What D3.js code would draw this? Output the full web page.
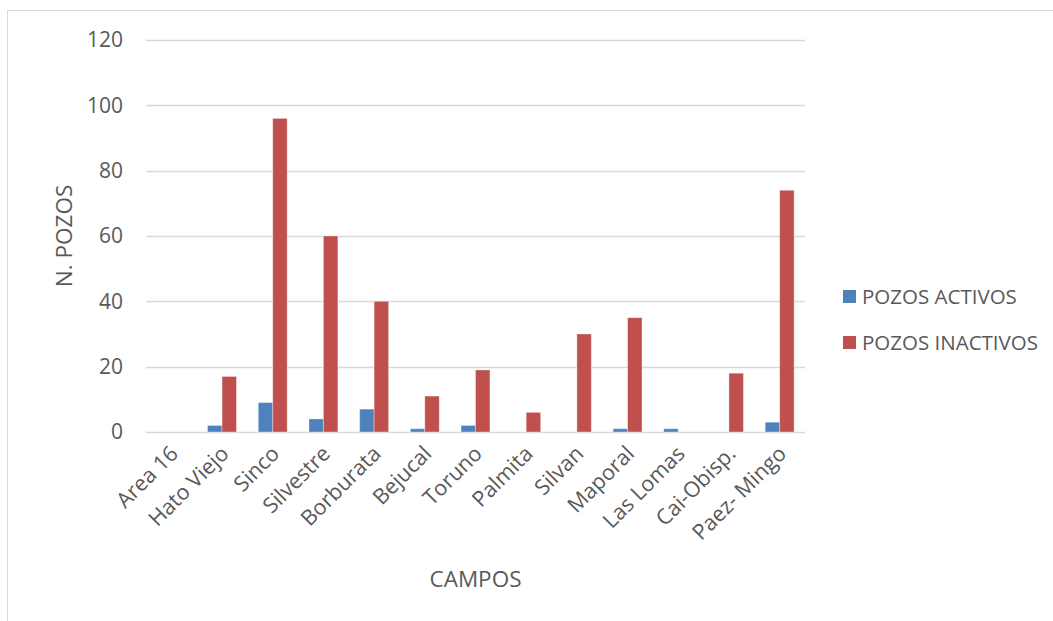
<!DOCTYPE html>
<html><head><meta charset="utf-8">
<script src="https://cdn.jsdelivr.net/npm/d3@7"></script>
<style>body{margin:0;background:#fff;} svg{display:block;}</style>
</head><body>
<script>
const categories = ["Area 16","Hato Viejo","Sinco","Silvestre","Borburata","Bejucal","Toruno","Palmita","Silvan","Maporal","Las Lomas","Cai-Obisp.","Paez- Mingo"];
const activos   = [0, 2, 9, 4, 7, 1, 2, 0, 0, 1, 1, 0, 3];
const inactivos = [0, 17, 96, 60, 40, 11, 19, 6, 30, 35, 0, 18, 74];
const yTicks = [0, 20, 40, 60, 80, 100, 120];
const seriesNames = ["POZOS ACTIVOS", "POZOS INACTIVOS"];
const colors = ["#4F81BD", "#C0504D"];

(function () {
const W = 1053, H = 621;
const font = "'Open Sans', sans-serif";
const txt = "#595959";
const svg = d3.select("body").append("svg").attr("width", W).attr("height", H);
svg.append("rect").attr("x", 7.5).attr("y", 10.5).attr("width", W).attr("height", H)
  .attr("fill", "#fff").attr("stroke", "#d9d9d9").attr("stroke-width", 1);

const pLeft = 146, pRight = 805, pTop = 40, pBottom = 432;
const x = d3.scaleBand().domain(categories).range([pLeft, pRight]).paddingInner(0.43).paddingOuter(0.215);
const xs = d3.scaleBand().domain([0, 1]).range([0, x.bandwidth()]);
const y = d3.scaleLinear().domain([0, 120]).range([pBottom, pTop]);

// grid
svg.append("g").selectAll("line").data(yTicks).join("line")
  .attr("x1", pLeft).attr("x2", pRight)
  .attr("y1", d => Math.round(y(d)) + 0.5).attr("y2", d => Math.round(y(d)) + 0.5)
  .attr("stroke", "#d9d9d9").attr("stroke-width", 1.3);

// y axis labels
const ya = svg.append("g").attr("transform", `translate(${pLeft},0)`)
  .call(d3.axisLeft(y).tickValues(yTicks).tickSize(0).tickPadding(23));
ya.select(".domain").remove();
ya.selectAll("text").attr("font-family", font).attr("font-size", 21).attr("fill", txt);

// bars
const data = [activos, inactivos];
data.forEach((vals, si) => {
  svg.append("g").selectAll("rect").data(vals).join("rect")
    .attr("x", (d, i) => x(categories[i]) + xs(si))
    .attr("width", xs.bandwidth())
    .attr("y", d => y(d))
    .attr("height", d => y(0) - y(d))
    .attr("fill", colors[si])
    .attr("stroke", "rgba(255,255,255,0.35)").attr("stroke-width", 1);
});

// x axis labels
const xa = svg.append("g").attr("transform", `translate(0,${pBottom})`)
  .call(d3.axisBottom(x).tickSize(0).tickPadding(0));
xa.select(".domain").remove();
xa.selectAll("text")
  .attr("font-family", font).attr("font-size", 21.5).attr("fill", txt)
  .attr("text-anchor", "end").attr("dy", null).attr("y", 0)
  .attr("transform", "translate(8,23) rotate(-45)");

// axis titles
svg.append("text").attr("x", (pLeft + pRight) / 2).attr("y", 587)
  .attr("text-anchor", "middle").attr("font-family", font).attr("font-size", 22.5).attr("fill", txt)
  .text("CAMPOS");
svg.append("text").attr("transform", `translate(72,${(pTop + pBottom) / 2}) rotate(-90)`)
  .attr("text-anchor", "middle").attr("font-family", font).attr("font-size", 22.5).attr("fill", txt)
  .text("N. POZOS");

// legend
const lg = svg.append("g");
seriesNames.forEach((n, i) => {
  const yy = 290 + i * 46;
  lg.append("rect").attr("x", 843).attr("y", yy).attr("width", 13).attr("height", 13).attr("fill", colors[i]);
  lg.append("text").attr("x", 862).attr("y", yy + 14).attr("font-family", font).attr("font-size", 20.5)
    .attr("fill", txt).text(n);
});
})();
</script>
</body></html>
